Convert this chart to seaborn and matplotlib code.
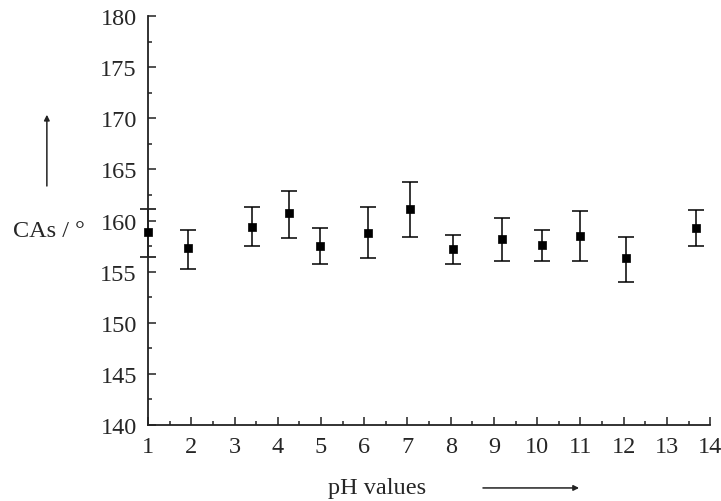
import matplotlib
matplotlib.use("Agg")
import matplotlib.pyplot as plt
from matplotlib.ticker import MultipleLocator
import seaborn as sns
import pandas as pd

# contact angle vs pH
ph = [1.0, 1.93, 3.41, 4.25, 4.98, 6.08, 7.05, 8.05, 9.18, 10.10, 11.0, 12.06, 13.68]
ca = [158.9, 157.3, 159.4, 160.7, 157.5, 158.8, 161.1, 157.2, 158.2, 157.6, 158.5, 156.3, 159.3]
ca_hi = [161.1, 159.1, 161.3, 162.9, 159.3, 161.3, 163.8, 158.6, 160.2, 159.1, 160.9, 158.4, 161.0]
ca_lo = [156.4, 155.3, 157.5, 158.3, 155.7, 156.3, 158.4, 155.7, 156.0, 156.0, 156.0, 154.0, 157.5]

df = pd.DataFrame({'pH': ph, 'CA': ca})
err_low = [c - l for c, l in zip(ca, ca_lo)]
err_high = [h - c for c, h in zip(ca, ca_hi)]

sns.set_style('ticks')
plt.rcParams['font.family'] = ['Liberation Serif', 'DejaVu Serif']

fig = plt.figure(figsize=(7.21, 5.02), dpi=100)
ax = fig.add_axes([0.2053, 0.1514, 0.7797, 0.8146])

ax.errorbar(df['pH'], df['CA'], yerr=[err_low, err_high], fmt='none',
            ecolor='black', elinewidth=1.1, capsize=5.5, capthick=1.1, clip_on=False, zorder=2)
sns.scatterplot(data=df, x='pH', y='CA', marker='s', s=32, color='black',
                edgecolor='black', linewidth=0.5, ax=ax, zorder=3, clip_on=False)

ax.set_xlim(1, 14)
ax.set_ylim(140, 180)
ax.xaxis.set_major_locator(MultipleLocator(1))
ax.xaxis.set_minor_locator(MultipleLocator(0.5))
ax.yaxis.set_major_locator(MultipleLocator(5))
ax.yaxis.set_minor_locator(MultipleLocator(2.5))
ax.tick_params(which='both', direction='in', width=1.1, color='#222222', labelsize=17.5)
ax.tick_params(which='major', length=6, pad=8)
ax.tick_params(which='minor', length=3)
ax.tick_params(axis='y', pad=8)
for side in ['top', 'right']:
    ax.spines[side].set_visible(False)
for side in ['left', 'bottom']:
    ax.spines[side].set_linewidth(1.3)
    ax.spines[side].set_color('#222222')
ax.set_xlabel('')
ax.set_ylabel('')

# axis titles with arrows, as in the original figure
fig.text(0.068, 0.538, 'CAs / \u00b0', fontsize=17.5, ha='center', va='center')
fig.text(0.523, 0.005, 'pH values', fontsize=17.5, ha='center', va='bottom')
fig.add_artist(matplotlib.patches.FancyArrowPatch((0.065, 0.622), (0.065, 0.775),
               transform=fig.transFigure, arrowstyle='-|>', mutation_scale=8,
               color='#222222', linewidth=1.1))
fig.add_artist(matplotlib.patches.FancyArrowPatch((0.666, 0.026), (0.807, 0.026),
               transform=fig.transFigure, arrowstyle='-|>', mutation_scale=8,
               color='#222222', linewidth=1.1))

fig.savefig('out.png', dpi=100)
